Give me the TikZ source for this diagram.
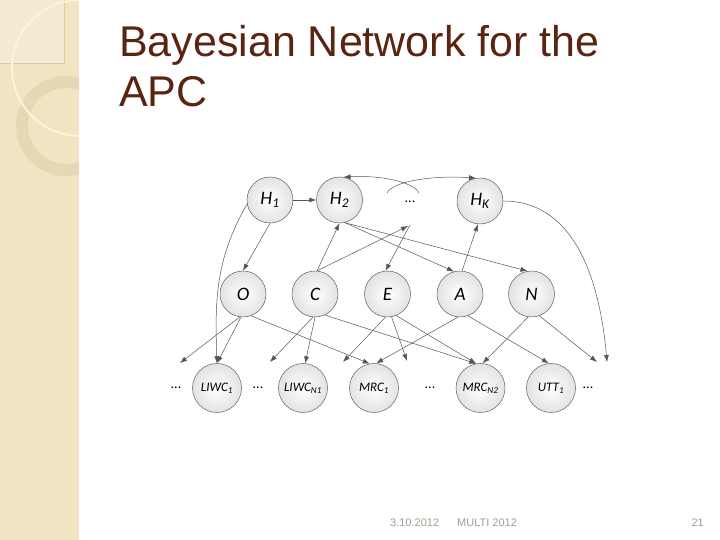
\documentclass[tikz,border=0pt]{standalone}
\usepackage{fontspec}
\setmainfont{Liberation Sans}
\newfontfamily\lblfont{Carlito}
\usetikzlibrary{arrows.meta}
\definecolor{bandcol}{HTML}{F1E4C2}
\definecolor{boxcol}{HTML}{F5EBD2}
\definecolor{boxedge}{HTML}{DCCBA2}
\definecolor{ringcol}{HTML}{E6D8B4}
\definecolor{arccol}{HTML}{FBF4DC}
\definecolor{titlecol}{HTML}{5A2412}
\definecolor{footcol}{HTML}{A39C90}
\definecolor{edgecol}{HTML}{555555}
\tikzset{
  var/.style={circle, draw=gray!75!black, line width=0.5pt, inner color=white, outer color=gray!22,
    minimum size=46pt, inner sep=0pt, font=\lblfont\itshape\fontsize{19}{19}\selectfont},
  obs/.style={var, minimum size=49pt, font=\lblfont\itshape\fontsize{13}{13}\selectfont},
  dotsnode/.style={inner sep=0pt, font=\lblfont\fontsize{14}{14}\selectfont},
  arr/.style={draw=edgecol, line width=0.5pt, -{Latex[length=7pt,width=5pt]}},
}
\begin{document}
\begin{tikzpicture}[x=1pt,y=1pt]
\useasboundingbox (0,0) rectangle (720,540);
% left band
\fill[bandcol] (0,0) rectangle (79,540);
\begin{scope}
\clip (0,0) rectangle (79,540);
\fill[boxcol] (0,540) rectangle (64,477);
\draw[boxedge, line width=0.5pt] (64,540) -- (64,477) -- (0,477);
\fill[ringcol, even odd rule] (66,414) circle (50) (66,414) circle (38);
\draw[arccol, line width=2pt] (80,472) circle (68);
\end{scope}
% title
\node[anchor=base west, inner sep=0pt, text=titlecol, font=\fontsize{43}{50}\selectfont] (t1) at (119,483) {Bayesian Network for the};
\node[anchor=base west, inner sep=0pt, text=titlecol, font=\fontsize{43}{50}\selectfont] (t2) at (119,433) {APC};
% footer
\node[anchor=base west, inner sep=0pt, text=footcol, font=\fontsize{11}{11}\selectfont] (f1) at (390,13) {3.10.2012};
\node[anchor=base west, inner sep=0pt, text=footcol, font=\fontsize{11}{11}\selectfont] (f2) at (457,13) {MULTI 2012};
\node[anchor=base east, inner sep=0pt, text=footcol, font=\fontsize{11}{11}\selectfont] (f3) at (704,13) {21};
% nodes
\node[var] (H1) at (270,340) {H\textsubscript{1}};
\node[var] (H2) at (339.5,340) {H\textsubscript{2}};
\node[dotsnode] (tdots) at (410,338) {...};
\node[var] (HK) at (480,339) {H\textsubscript{K}};
\node[var] (O) at (243,246) {O};
\node[var] (C) at (315,246) {C};
\node[var] (E) at (387.5,246) {E};
\node[var] (A) at (460,246) {A};
\node[var] (N) at (531.5,246) {N};
\node[obs] (L1) at (217,152) {LIWC\textsubscript{1}};
\node[obs] (LN) at (303,152) {LIWC\textsubscript{N1}};
\node[obs] (M1) at (374,152) {MRC\textsubscript{1}};
\node[obs] (MN) at (480.5,152) {MRC\textsubscript{N2}};
\node[obs] (U1) at (551,152) {UTT\textsubscript{1}};
\node[dotsnode] (b1) at (176,152) {...};
\node[dotsnode] (b2) at (258,152) {...};
\node[dotsnode] (b3) at (430,152) {...};
\node[dotsnode] (b4) at (588,152) {...};
% free ends
\coordinate (d1) at (180,177);
\coordinate (d2) at (270,178);
\coordinate (d3) at (343,178);
\coordinate (d4) at (407,179);
\coordinate (d5) at (597,178);
\coordinate (d6) at (607,178);
\coordinate (tin) at (408,314);
\coordinate (tout) at (410,315);
\coordinate (pL) at (387,347);
\coordinate (pR) at (419,347);
% top edges
\draw[arr] (H1.east) -- (H2.west);
\draw[arr] (H1.270) -- (O.north);
\draw[arr] (H1.190) to[out=240,in=92] (L1.north);
\draw[arr] (pL) .. controls (392,358) and (430,365) .. (HK.100);
\draw[arr] (pR) .. controls (414,358) and (380,365) .. (H2.80);
\draw[arr] (HK.0) to[out=0,in=95] (d6);
\draw[arr] (C.85) -- (H2.270);
\draw[arr] (C.85) -- (tin);
\draw[arr] (tout) -- (E.95);
\draw[arr] (A.85) -- (HK.265);
\draw[arr] (H2.283) -- (A.105);
\draw[arr] (H2.283) -- (N.100);
% bottom edges
\draw[arr] (O.262) -- (d1);
\draw[arr] (O.265) -- (L1.north);
\draw[arr] (O.290) -- (M1.100);
\draw[arr] (C.265) -- (d2);
\draw[arr] (C.270) -- (LN.85);
\draw[arr] (C.295) -- (MN.100);
\draw[arr] (E.265) -- (d3);
\draw[arr] (E.280) -- (d4);
\draw[arr] (E.292) -- (MN.100);
\draw[arr] (A.265) -- (M1.85);
\draw[arr] (A.290) -- (U1.95);
\draw[arr] (N.262) -- (MN.85);
\draw[arr] (N.290) -- (d5);
\end{tikzpicture}
\end{document}
